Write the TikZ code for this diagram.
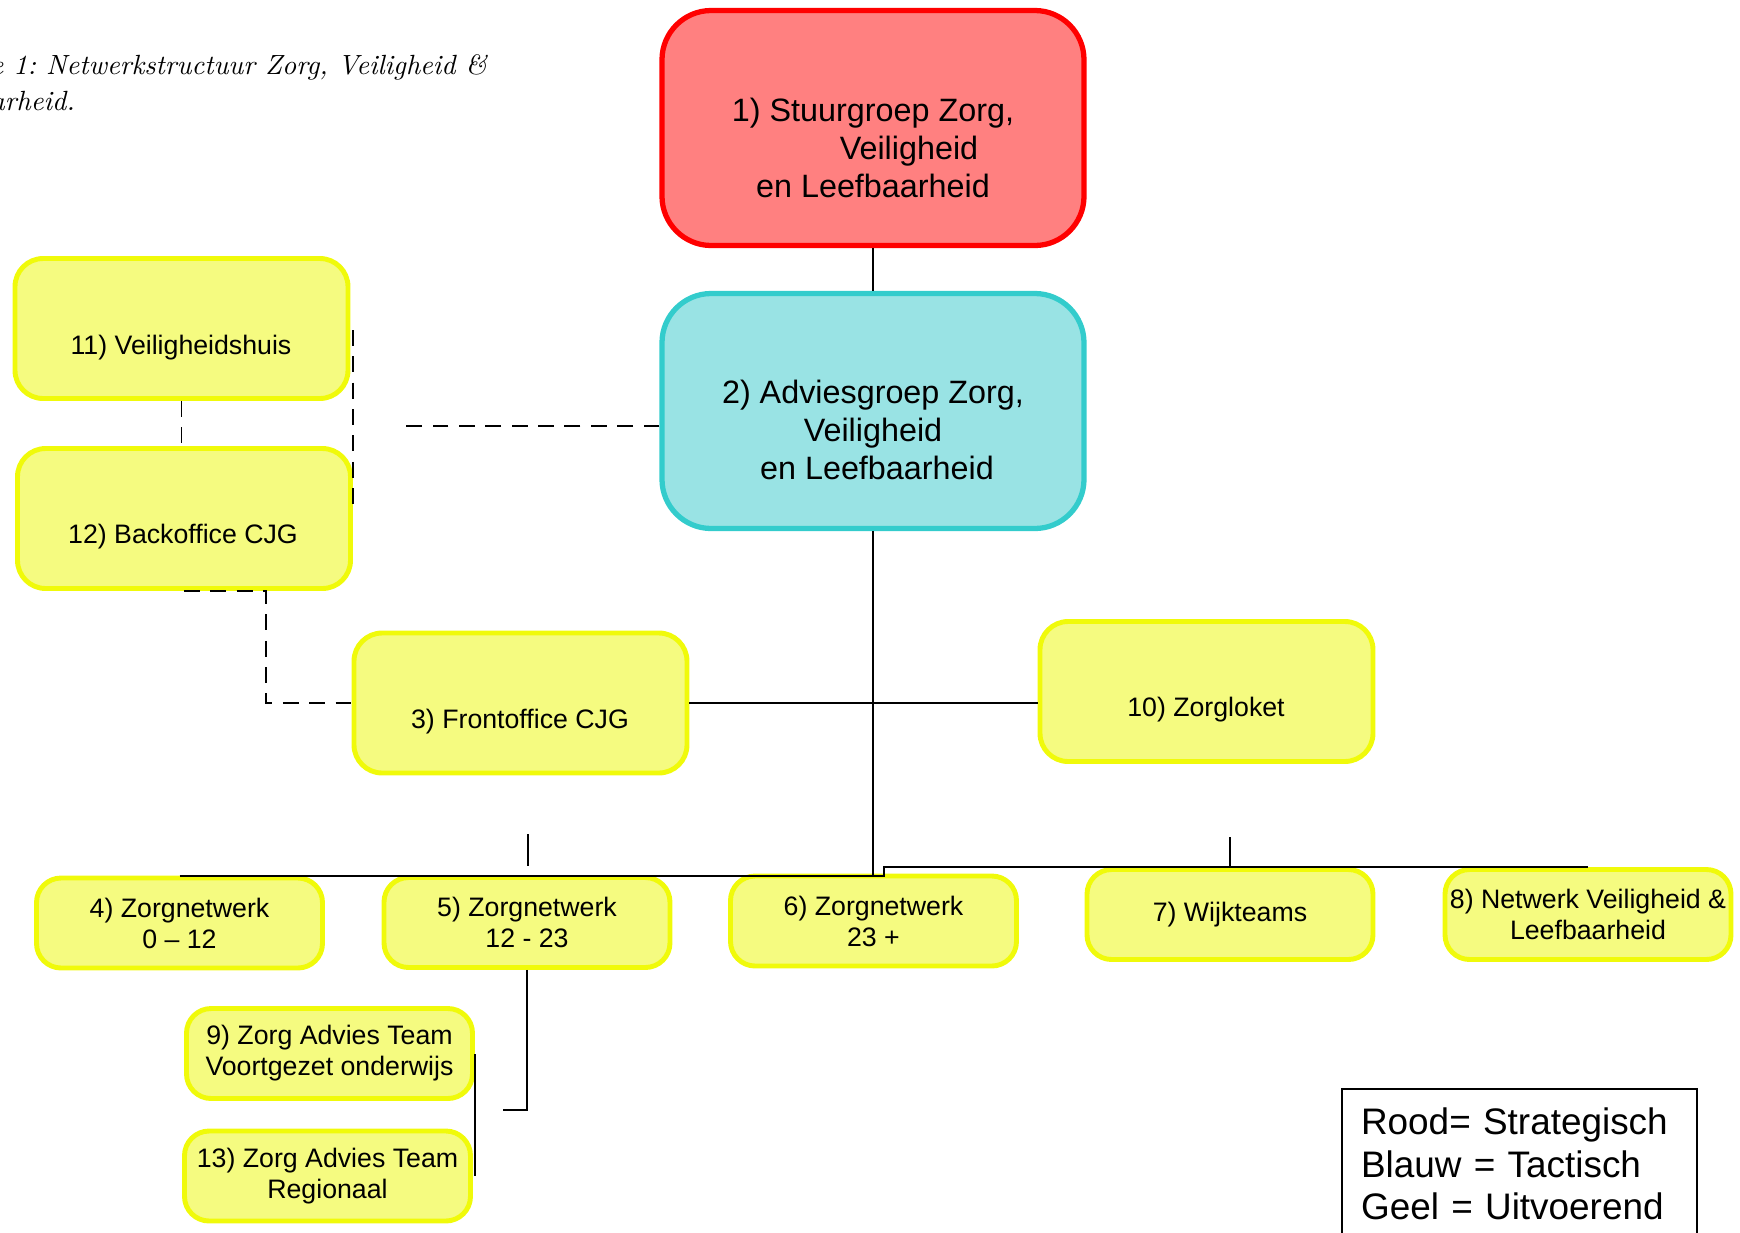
\documentclass[tikz,border=0pt]{standalone}
\usepackage{fontspec}
\newfontfamily\arial{Liberation Sans}
\newfontfamily\onderfont{lmroman10-italic.otf}
\usepackage{tikz}
\definecolor{roodrand}{RGB}{255,0,0}
\definecolor{roodvul}{RGB}{255,128,128}
\definecolor{blauwrand}{RGB}{51,204,204}
\definecolor{blauwvul}{RGB}{153,227,228}
\definecolor{geelrand}{RGB}{240,250,10}
\definecolor{geelvul}{RGB}{245,251,128}
\tikzset{
  groot/.style={draw,rounded corners=14pt,line width=1.5pt,inner sep=0pt,
    minimum width=4.22cm,minimum height=2.35cm},
  grotetekst/.style={align=center,font=\arial\fontsize{9.2}{10.7}\selectfont},
  hoog/.style={draw=geelrand,fill=geelvul,rounded corners=8pt,line width=1.4pt,
    inner sep=0pt,minimum width=3.33cm,minimum height=1.40cm},
  laag/.style={draw=geelrand,fill=geelvul,rounded corners=7pt,line width=1.4pt,
    inner sep=0pt,minimum width=2.86cm,minimum height=0.90cm,
    align=center,font=\arial\fontsize{7.6}{8.8}\selectfont},
  geeltekst/.style={align=center,font=\arial\fontsize{7.6}{8.8}\selectfont},
  lijn/.style={line width=0.55pt},
  stippel/.style={line width=0.55pt,dash pattern=on 4.5pt off 3pt}
}

\begin{document}
\begin{tikzpicture}[x=1cm,y=-1cm]
    \useasboundingbox (0,0) rectangle (17.40,12.32);

    \node (onderschrift) at (-0.10,1.10) [anchor=base west,align=left,inner sep=0pt,
      font=\frenchspacing\onderfont\fontsize{7.9}{10}\selectfont]
      {e 1: Netwerkstructuur Zorg, Veiligheid \&\\arheid.};

    % strategisch en tactisch
    \node (stuur) at (8.73,1.28) [groot,draw=roodrand,fill=roodvul] {};
    \node (stuurtekst) at (8.73,1.48) [grotetekst]
      {1) Stuurgroep Zorg,\\\hspace*{0.72cm}Veiligheid\\en Leefbaarheid};

    \node (advies) at (8.73,4.11) [groot,draw=blauwrand,fill=blauwvul] {};
    \node (adviestekst) at (8.73,4.30) [grotetekst]
      {2) Adviesgroep Zorg,\\Veiligheid\\\hspace*{0.08cm}en Leefbaarheid};

    % uitvoerend
    \node (veilig) at (1.815,3.285) [hoog] {};
    \node (veiligtekst) at (1.81,3.48) [geeltekst] {11) Veiligheidshuis};

    \node (backoff) at (1.84,5.185) [hoog] {};
    \node (backofftekst) at (1.83,5.37) [geeltekst] {12) Backoffice CJG};

    \node (front) at (5.205,7.03) [hoog] {};
    \node (fronttekst) at (5.20,7.22) [geeltekst] {3) Frontoffice CJG};

    \node (loket) at (12.065,6.915) [hoog] {};
    \node (lokettekst) at (12.06,7.10) [geeltekst] {10) Zorgloket};

    \node (zn4) at (1.795,9.23) [laag] {4) Zorgnetwerk\\0 – 12};
    \node (zn5) at (5.27,9.225) [laag] {5) Zorgnetwerk\\12 - 23};
    \node (zn6) at (8.735,9.21) [laag] {6) Zorgnetwerk\\23 +};
    \node (wijk) at (12.30,9.145) [laag] {7) Wijkteams};
    \node (nvl) at (15.88,9.145) [laag] {8) Netwerk Veiligheid \&\\Leefbaarheid};

    \node (zat9) at (3.295,10.535) [laag] {9) Zorg Advies Team\\Voortgezet onderwijs};
    \node (zat13) at (3.275,11.76) [laag] {13) Zorg Advies Team\\Regionaal};

    \node (legenda) at (13.41,10.88) [draw,line width=0.6pt,anchor=north west,
      align=left,text width=3.17cm,inner xsep=0.19cm,inner ysep=0.19cm,
      font=\arial\fontsize{10.5}{12.1}\selectfont]
      {Rood= Strategisch\\Blauw = Tactisch\\Geel = Uitvoerend};

    % lijnen
    \coordinate (stipeind) at (4.00,4.26);
    \coordinate (randboven) at (3.53,3.30);
    \coordinate (randonder) at (3.53,5.13);
    \coordinate (knik) at (advies.south |- zn4.north);
    \coordinate (stomp) at (5.28,8.34);
    \coordinate (zateind) at (5.03,11.10);
    \coordinate (zatboven) at (4.75,10.54);
    \coordinate (zatonder) at (4.75,11.76);

    \draw[lijn] (stuur) to (advies);
    \draw[stippel] (advies.west |- stipeind) to (stipeind);
    \draw[stippel] (veilig.south) to (veilig.south |- backoff.north);
    \draw[stippel] (randboven) to (randonder);
    \draw[stippel] (backoff.south) -- ++(0.82,0) |- (front.west);
    \draw[lijn] (front.east) to (front.east -| loket.west);
    \draw[lijn] (advies.south) to (knik);
    \draw[lijn] (zn4.north) to (knik);
    \draw[lijn] (knik) -- ++(0.11,0) |- (nvl.north);
    \draw[lijn] (stomp) -- ++(0,0.32);
    \draw[lijn] (wijk.north) -- ++(0,-0.30);
    \draw[lijn] (zn5.south) |- (zateind);
    \draw[lijn] (zatboven) to (zatonder);
\end{tikzpicture}
\end{document}
